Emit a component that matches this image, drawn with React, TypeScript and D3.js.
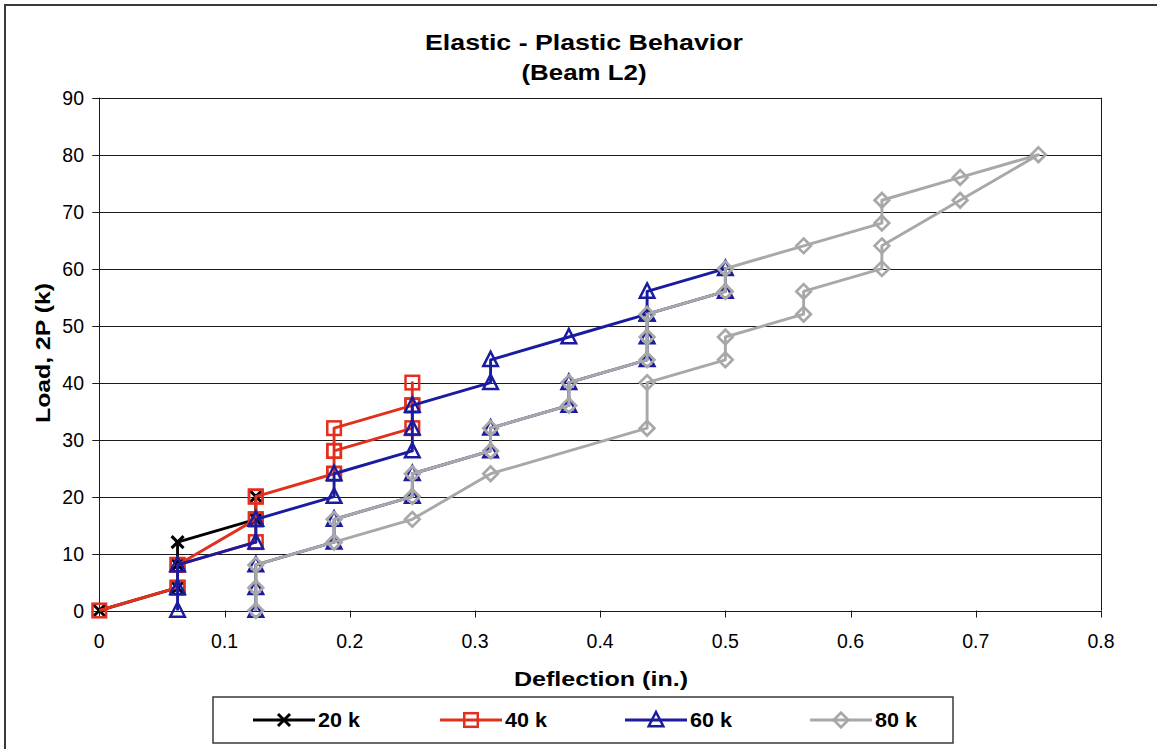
import React from 'react';
import * as d3 from 'd3';

const W = 1157;
const H = 749;

// Deflection (in.) and Load 2P (k) readings per load cycle
const s20x = [0, 0.0625, 0.0625, 0.0625, 0.125, 0.125];
const s20y = [0, 4, 8, 12, 16, 20];

const s40x = [0, 0.0625, 0.0625, 0.125, 0.125, 0.1875, 0.1875, 0.1875, 0.25, 0.25, 0.25, 0.25, 0.1875, 0.1875, 0.125, 0.125, 0.125, 0.0625, 0.0625];
const s40y = [0, 4, 8, 16, 20, 24, 28, 32, 36, 40, 36, 32, 28, 24, 20, 16, 12, 8, 4];

const s60x = [0.0625, 0.0625, 0.0625, 0.125, 0.125, 0.1875, 0.1875, 0.25, 0.25, 0.25, 0.3125, 0.3125, 0.375, 0.4375, 0.4375, 0.5,
  0.5, 0.4375, 0.4375, 0.4375, 0.375, 0.375, 0.3125, 0.3125, 0.25, 0.25, 0.1875, 0.1875, 0.125, 0.125, 0.125];
const s60y = [0, 4, 8, 12, 16, 20, 24, 28, 32, 36, 40, 44, 48, 52, 56, 60,
  56, 52, 48, 44, 40, 36, 32, 28, 24, 20, 16, 12, 8, 4, 0];

const s80x = [0.125, 0.125, 0.125, 0.1875, 0.1875, 0.25, 0.25, 0.3125, 0.3125, 0.375, 0.375, 0.4375, 0.4375, 0.4375, 0.5, 0.5, 0.5625, 0.625, 0.625, 0.6875, 0.75,
  0.6875, 0.625, 0.625, 0.5625, 0.5625, 0.5, 0.5, 0.4375, 0.4375, 0.3125, 0.25, 0.1875];
const s80y = [0, 4, 8, 12, 16, 20, 24, 28, 32, 36, 40, 44, 48, 52, 56, 60, 64, 68, 72, 76, 80,
  72, 64, 60, 56, 52, 48, 44, 40, 32, 24, 16, 12];

const seriesNames = ['20 k', '40 k', '60 k', '80 k'];
const seriesColors = ['#000000', '#E2301E', '#1B1BA0', '#A8A8A8'];
const seriesMarkers = ['x', 'square', 'triangle', 'diamond'];

const xTicks = [0, 0.1, 0.2, 0.3, 0.4, 0.5, 0.6, 0.7, 0.8];
const yTicks = [0, 10, 20, 30, 40, 50, 60, 70, 80, 90];

const titleLines = ['Elastic - Plastic Behavior', '(Beam L2)'];
const xTitle = 'Deflection (in.)';
const yTitle = 'Load, 2P (k)';

const FONT = 'Liberation Sans, Arial, Helvetica, sans-serif';

function Marker({ kind, x, y, color }: { kind: string; x: number; y: number; color: string }) {
  if (kind === 'x') {
    const s = 6;
    return (
      <g stroke={color} strokeWidth={3} fill="none">
        <line x1={x - s} y1={y - s} x2={x + s} y2={y + s} />
        <line x1={x - s} y1={y + s} x2={x + s} y2={y - s} />
      </g>
    );
  }
  if (kind === 'square') {
    const s = 6.8;
    return <rect x={x - s} y={y - s} width={2 * s} height={2 * s} stroke={color} strokeWidth={2.5} fill="none" />;
  }
  if (kind === 'triangle') {
    return (
      <path d={`M${x},${y - 8} L${x + 7.3},${y + 6.3} L${x - 7.3},${y + 6.3} Z`} stroke={color} strokeWidth={2.5} fill="none" strokeLinejoin="miter" />
    );
  }
  const s = 7.3;
  return (
    <path d={`M${x},${y - s} L${x + s},${y} L${x},${y + s} L${x - s},${y} Z`} stroke={color} strokeWidth={2.7} fill="none" />
  );
}

export default function App() {
  const left = 99.3, right = 1101, top = 97.7, bottom = 610.5;
  const xScale = d3.scaleLinear().domain([0, 0.8]).range([left, right]);
  const yScale = d3.scaleLinear().domain([0, 90]).range([bottom, top]);

  const seriesData = [
    s20x.map((v, i) => [v, s20y[i]]),
    s40x.map((v, i) => [v, s40y[i]]),
    s60x.map((v, i) => [v, s60y[i]]),
    s80x.map((v, i) => [v, s80y[i]]),
  ] as [number, number][][];

  const line = d3.line<[number, number]>().x((d) => xScale(d[0])).y((d) => yScale(d[1]));

  const legendX = [253, 440, 625, 810];
  const legendY = 720;

  return (
    <svg width={W} height={H} style={{ position: 'absolute', left: 0, top: 0, background: '#fff' }} fontFamily={FONT}>
      <rect x={0} y={0} width={W} height={H} fill="#fff" />
      {/* chart frame */}
      <rect x={5} y={5} width={W + 20} height={H + 20} fill="none" stroke="#3a3a3a" strokeWidth={2} />

      {/* title */}
      <text x={584} y={50} textAnchor="middle" fontWeight="bold" fontSize={22} textLength={318} lengthAdjust="spacingAndGlyphs">{titleLines[0]}</text>
      <text x={584} y={80} textAnchor="middle" fontWeight="bold" fontSize={22} textLength={125} lengthAdjust="spacingAndGlyphs">{titleLines[1]}</text>

      {/* gridlines */}
      {yTicks.map((t) => (
        <line key={'g' + t} x1={left} x2={right} y1={Math.round(yScale(t)) + 0.5} y2={Math.round(yScale(t)) + 0.5} stroke="#1a1a1a" strokeWidth={1} />
      ))}
      <line x1={Math.round(right) + 0.5} x2={Math.round(right) + 0.5} y1={top} y2={bottom} stroke="#1a1a1a" strokeWidth={1} />
      {/* y axis */}
      <line x1={Math.round(left) + 0.5} x2={Math.round(left) + 0.5} y1={top} y2={bottom + 0.5} stroke="#1a1a1a" strokeWidth={1} />
      {yTicks.map((t) => (
        <g key={'yt' + t}>
          <line x1={left - 7} x2={left} y1={Math.round(yScale(t)) + 0.5} y2={Math.round(yScale(t)) + 0.5} stroke="#1a1a1a" strokeWidth={1} />
          <text x={84} y={yScale(t) + 7} textAnchor="end" fontSize={19.5}>{t}</text>
        </g>
      ))}
      {/* x axis ticks */}
      {xTicks.map((t) => (
        <g key={'xt' + t}>
          <line x1={Math.round(xScale(t)) + 0.5} x2={Math.round(xScale(t)) + 0.5} y1={bottom} y2={bottom + 7} stroke="#1a1a1a" strokeWidth={1} />
          <text x={xScale(t)} y={648} textAnchor="middle" fontSize={19.5}>{t}</text>
        </g>
      ))}

      {/* axis titles */}
      <text x={601} y={686} textAnchor="middle" fontWeight="bold" fontSize={21} textLength={174} lengthAdjust="spacingAndGlyphs">{xTitle}</text>
      <text transform={`translate(50,353) rotate(-90)`} textAnchor="middle" fontWeight="bold" fontSize={21} textLength={140} lengthAdjust="spacingAndGlyphs">{yTitle}</text>

      {/* series */}
      {seriesData.map((data, si) => (
        <g key={'s' + si}>
          <path d={line(data) || ''} fill="none" stroke={seriesColors[si]} strokeWidth={2.9} strokeLinejoin="round" />
          {data.map((d, i) => (
            <Marker key={i} kind={seriesMarkers[si]} x={xScale(d[0])} y={yScale(d[1])} color={seriesColors[si]} />
          ))}
        </g>
      ))}

      {/* legend */}
      <rect x={213} y={697} width={740} height={46} fill="none" stroke="#3a3a3a" strokeWidth={1.5} />
      {seriesNames.map((name, i) => (
        <g key={'l' + i}>
          <line x1={legendX[i]} x2={legendX[i] + 62} y1={legendY} y2={legendY} stroke={seriesColors[i]} strokeWidth={2.9} />
          <Marker kind={seriesMarkers[i]} x={legendX[i] + 31} y={legendY} color={seriesColors[i]} />
          <text x={legendX[i] + 65} y={legendY + 7} fontWeight="bold" fontSize={20} textLength={42} lengthAdjust="spacingAndGlyphs">{name}</text>
        </g>
      ))}
    </svg>
  );
}
